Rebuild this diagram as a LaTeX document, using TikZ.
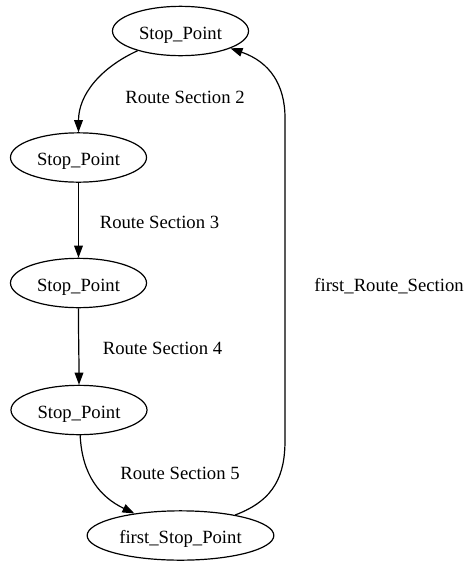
\documentclass[tikz,border=0pt]{standalone}
\usepackage{fontspec}
\setmainfont{Liberation Serif}
\usetikzlibrary{shapes.geometric,arrows.meta}

\begin{document}
\begin{tikzpicture}[x=0.75pt, y=-0.75pt, font=\fontsize{14}{16}\selectfont,
    stop/.style={ellipse, draw, line width=0.9pt, minimum width=102pt, minimum height=37pt,
        inner sep=0pt, text height=14pt, text depth=1.8pt},
    route/.style={line width=0.9pt, -{Triangle[length=9pt,width=6.5pt]}}]
    \useasboundingbox (0,0) rectangle (467,561);

    % Define stops
    \node[stop] (P1) at (180.5,31) {Stop\_Point};
    \node[stop] (P2) at (78.5,157.5) {Stop\_Point};
    \node[stop] (P3) at (78.5,283) {Stop\_Point};
    \node[stop] (P4) at (79,410) {Stop\_Point};
    \node[stop, minimum width=140pt] (F) at (180.5,535.5) {first\_Stop\_Point};

    % Draw route sections with arrows
    \draw[route] (P1) .. controls (100,68) and (78.5,95) .. (P2);
    \draw[route] (P2) -- (P3);
    \draw[route] (P3) .. controls (78.5,345) and (79,355) .. (P4);
    \draw[route] (P4) .. controls (82,475) and (100,497) .. (F);
    \draw[route] (F) .. controls (275,500) and (285,475) .. (285,440)
        -- (285,118) .. controls (285,85) and (270,62) .. (P1);

    % Section labels
    \node (L2) at (185,97) {Route Section 2};
    \node (L3) at (159.5,222) {Route Section 3};
    \node (L4) at (162.5,348.5) {Route Section 4};
    \node (L5) at (180,473.5) {Route Section 5};
    \node (L1) at (389,286) {first\_Route\_Section};
\end{tikzpicture}
\end{document}
